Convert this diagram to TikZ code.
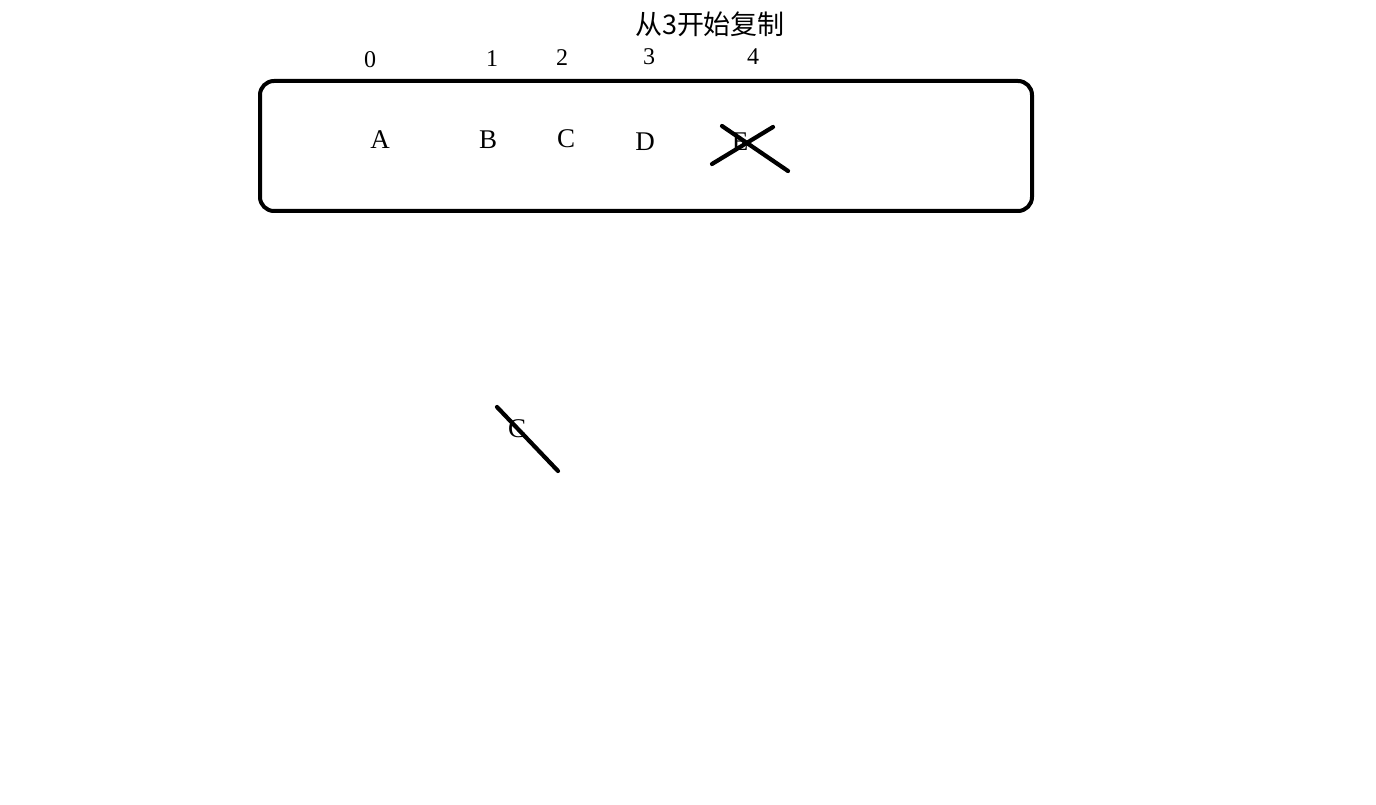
\documentclass[tikz,border=0pt]{standalone}
\usepackage{fontspec}
\setmainfont{Liberation Serif}
\newfontfamily\cjk{Noto Sans CJK SC}
\begin{document}
\begin{tikzpicture}[x=1pt,y=-1pt,
  idx/.style={inner sep=0pt,font=\fontsize{24}{26}\selectfont},
  cell/.style={inner sep=0pt,font=\fontsize{27}{30}\selectfont},
  strike/.style={line width=4.2pt,line cap=round},
  frame/.style={line width=4pt,rounded corners=14pt}]
\useasboundingbox (0,0) rectangle (1376,805);
\fill[white] (0,0) rectangle (1376,805);
\draw[frame] (260,81) rectangle (1032,211);
\node[font=\cjk\fontsize{27}{28}\selectfont,inner sep=0pt] (title) at (710,24) {从3开始复制};
\node[idx] (i0) at (370,60) {0};
\node[idx] (i1) at (492,59) {1};
\node[idx] (i2) at (562,58) {2};
\node[idx] (i3) at (649,57) {3};
\node[idx] (i4) at (753,57) {4};
\node[cell] (A) at (380,140) {A};
\node[cell] (B) at (488,140) {B};
\node[cell] (C) at (566,139) {C};
\node[cell] (D) at (645,142) {D};
\node[cell] (E) at (740,142) {E};
\node[cell] (C2) at (517,429) {C};
\draw[strike] (712,164) -- (773,127);
\draw[strike] (722,126) -- (788,171);
\draw[strike] (497,407) -- (558,471);
\end{tikzpicture}
\end{document}
